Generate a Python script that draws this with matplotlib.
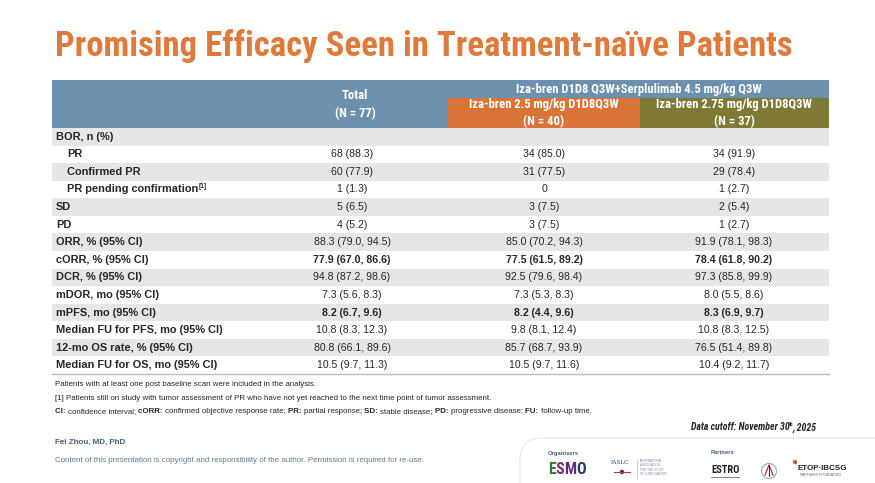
import matplotlib
matplotlib.use("Agg")
import matplotlib.pyplot as plt
from matplotlib import font_manager as fm
from matplotlib.patches import Rectangle, FancyBboxPatch, Circle

# ---------------- data ----------------
title = "Promising Efficacy Seen in Treatment-naïve Patients"
group_header = "Iza-bren D1D8 Q3W+Serplulimab 4.5 mg/kg Q3W"
col_headers = ["Total\n(N = 77)",
               "Iza-bren 2.5 mg/kg D1D8Q3W\n(N = 40)",
               "Iza-bren 2.75 mg/kg D1D8Q3W\n(N = 37)"]
row_labels = ["BOR, n (%)", "PR", "Confirmed PR", "PR pending confirmation",
              "SD", "PD", "ORR, % (95% CI)", "cORR, % (95% CI)",
              "DCR, % (95% CI)", "mDOR, mo (95% CI)", "mPFS, mo (95% CI)",
              "Median FU for PFS, mo (95% CI)", "12-mo OS rate, % (95% CI)",
              "Median FU for OS, mo (95% CI)"]
row_indent = [False, True, True, True, False, False, False, False,
              False, False, False, False, False, False]
row_sup = ["", "", "", "[1]", "", "", "", "", "", "", "", "", "", ""]
total_vals = ["", "68 (88.3)", "60 (77.9)", "1 (1.3)", "5 (6.5)", "4 (5.2)",
              "88.3 (79.0, 94.5)", "77.9 (67.0, 86.6)", "94.8 (87.2, 98.6)",
              "7.3 (5.6, 8.3)", "8.2 (6.7, 9.6)", "10.8 (8.3, 12.3)",
              "80.8 (66.1, 89.6)", "10.5 (9.7, 11.3)"]
arm25_vals = ["", "34 (85.0)", "31 (77.5)", "0", "3 (7.5)", "3 (7.5)",
              "85.0 (70.2, 94.3)", "77.5 (61.5, 89.2)", "92.5 (79.6, 98.4)",
              "7.3 (5.3, 8.3)", "8.2 (4.4, 9.6)", "9.8 (8.1, 12.4)",
              "85.7 (68.7, 93.9)", "10.5 (9.7, 11.6)"]
arm275_vals = ["", "34 (91.9)", "29 (78.4)", "1 (2.7)", "2 (5.4)", "1 (2.7)",
               "91.9 (78.1, 98.3)", "78.4 (61.8, 90.2)", "97.3 (85.8, 99.9)",
               "8.0 (5.5, 8.6)", "8.3 (6.9, 9.7)", "10.8 (8.3, 12.5)",
               "76.5 (51.4, 89.8)", "10.4 (9.2, 11.7)"]
bold_rows = ["cORR, % (95% CI)", "mPFS, mo (95% CI)"]

footnotes = [
    [("Patients with at least one post baseline scan were included in the analysis.", "normal")],
    [("[1] Patients still on study with tumor assessment of PR who have not yet reached to the next time point of tumor assessment.", "normal")],
    [("CI: ", "bold"), ("confidence interval; ", "normal"), ("cORR: ", "bold"),
     ("confirmed objective response rate; ", "normal"), ("PR: ", "bold"),
     ("partial response; ", "normal"), ("SD: ", "bold"), ("stable disease; ", "normal"),
     ("PD: ", "bold"), ("progressive disease; ", "normal"), ("FU: ", "bold"),
     ("follow-up time.", "normal")],
]
author = "Fei Zhou, MD, PhD"
copyright_txt = "Content of this presentation is copyright and responsibility of the author. Permission is required for re-use."

# ---------------- fonts ----------------
def has_font(name):
    try:
        fm.findfont(fm.FontProperties(family=name), fallback_to_default=False)
        return True
    except Exception:
        return False

BASE = "Liberation Sans" if has_font("Liberation Sans") else "DejaVu Sans"
NARROW = BASE
for cand in ["Liberation Sans Narrow", "Arial Narrow", "Roboto Condensed",
             "Open Sans Condensed"]:
    if has_font(cand):
        NARROW = cand
        break
plt.rcParams["font.family"] = [BASE, "DejaVu Sans"]

# ---------------- colours ----------------
C_TITLE = "#E07A3A"
C_BLUE = "#6C90AE"
C_ORANGE = "#D97337"
C_OLIVE = "#7E7A36"
C_GRAY = "#E6E6E6"
C_TEXT = "#262626"
C_AUTH = "#3E5F80"
C_COPY = "#5D7C99"

W, H = 875, 483
fig = plt.figure(figsize=(W / 100, H / 100), dpi=100)
ax = fig.add_axes([0, 0, 1, 1])
ax.set_xlim(0, W)
ax.set_ylim(H, 0)
ax.axis("off")
fig.canvas.draw()
renderer = fig.canvas.get_renderer()

def text_width(t):
    return t.get_window_extent(renderer=renderer).width

def fit(t, target_w):
    fs = t.get_fontsize()
    t.set_fontsize(fs * target_w / text_width(t))

# title, fitted to the reference span (x 55 .. 793)
tt = ax.text(55, 46, title, fontsize=25, fontweight="bold", color=C_TITLE,
             va="center", ha="left", family=[NARROW, BASE])
fit(tt, 793 - 55)

# table geometry
x0, x1 = 52, 829
x_orange, x_olive = 448, 640
hdr_top, hdr_mid, hdr_bot = 80, 97, 128
row_h = (374 - hdr_bot) / len(row_labels)
col_centers = [352, 544, 734]

ax.add_patch(Rectangle((x0, hdr_top), x1 - x0, hdr_bot - hdr_top, color=C_BLUE, lw=0))
ax.add_patch(Rectangle((x_orange, hdr_mid + 1), x_olive - x_orange, hdr_bot - hdr_mid - 1,
                       color=C_ORANGE, lw=0))
ax.add_patch(Rectangle((x_olive, hdr_mid + 1), x1 - x_olive, hdr_bot - hdr_mid - 1,
                       color=C_OLIVE, lw=0))
hfont = dict(fontsize=7.6, fontweight="bold", color="white", family=[NARROW, BASE],
             ha="center", va="center", linespacing=1.45)
gh = ax.text((x_orange + x1) / 2, 89, group_header, **hfont)
fit(gh, 244)
hfont["fontsize"] = gh.get_fontsize()
ax.text(355, 104.5, col_headers[0], **hfont)
ax.text((x_orange + x_olive) / 2, 113, col_headers[1], **hfont)
ax.text((x_olive + x1) / 2, 113, col_headers[2], **hfont)

# rows
for i, lab in enumerate(row_labels):
    ytop = hdr_bot + i * row_h
    yc = ytop + row_h / 2
    if i % 2 == 0:
        ax.add_patch(Rectangle((x0, ytop), x1 - x0, row_h, color=C_GRAY, lw=0))
    lx = 67 if row_indent[i] else 56
    t = ax.text(lx, yc, lab, fontsize=7.9, fontweight="bold", color=C_TEXT,
                ha="left", va="center")
    if row_sup[i]:
        w = text_width(t)
        ax.text(lx + w + 0.5, yc - 3, row_sup[i], fontsize=4.8, fontweight="bold",
                color=C_TEXT, ha="left", va="center")
    wt = "bold" if lab in bold_rows else "normal"
    for cx, vals in zip(col_centers, [total_vals, arm25_vals, arm275_vals]):
        ax.text(cx, yc, vals[i], fontsize=7.6, fontweight=wt, color=C_TEXT,
                ha="center", va="center")
ax.plot([x0, x1], [374, 374], color="#A9C2D8", lw=1.0)

# footnotes
for line, y in zip(footnotes, [385, 398.5, 411.5]):
    x = 55
    for seg, wt in line:
        t = ax.text(x, y, seg, fontsize=5.7, fontweight=wt, color=C_TEXT,
                    ha="left", va="center")
        x += text_width(t)

# data cutoff (laid out left to right, then shifted so it ends at x=817)
dfs = 7.1
parts = [("Data cutoff: November 30", dfs, 0.0, -0.8), ("th", 4.3, -2.8, -0.8),
         (", 2025", dfs, 0.0, 0.0)]
objs = []
for s, fs, dy, adj in parts:
    objs.append(ax.text(0, 427.5 + dy, s, fontsize=fs, fontweight="bold", style="italic",
                        color=C_TEXT, ha="left", va="center", family=[NARROW, BASE]))
widths = [text_width(o) + p[3] for o, p in zip(objs, parts)]
x = 817 - sum(widths)
for o, w in zip(objs, widths):
    o.set_x(x)
    x += w

# author / copyright
ax.text(55, 442, author, fontsize=5.8, fontweight="bold", color=C_AUTH,
        ha="left", va="center")
ax.text(55, 461, copyright_txt, fontsize=5.65, color=C_COPY,
        ha="left", va="center")

# logo area
ax.add_patch(FancyBboxPatch((520, 438), 400, 80, boxstyle="round,pad=0,rounding_size=22",
                            fc="white", ec="#EBEBEB", lw=1.0))
ax.text(548, 453, "Organisers", fontsize=4.2, fontweight="bold", color="#3E5F80",
        ha="left", va="center")
ax.text(711, 453, "Partners", fontsize=4.2, fontweight="bold", color="#3E5F80",
        ha="left", va="center")
esmo_cols = ["#2E7D32", "#7A2D6E", "#5B2C83", "#1E3A6E"]
ex = 548
for ch, c in zip("ESMO", esmo_cols):
    t = ax.text(ex, 470, ch, fontsize=11.5, fontweight="bold", color=c, ha="left",
                va="center", family=[NARROW, BASE])
    ex += text_width(t)
ax.text(611, 463, "IASLC", fontsize=4.6, color="#1E3A8A", ha="left", va="center",
        family=["Liberation Serif", "DejaVu Serif"])
ax.plot([614, 630], [472, 472], color="#C0392B", lw=0.8)
ax.add_patch(Circle((622, 472), 2.2, color="#1E3A8A", lw=0))
ax.plot([637, 637], [460, 478], color="#BBBBBB", lw=0.5)
for j, s in enumerate(["INTERNATIONAL", "ASSOCIATION", "FOR THE STUDY", "OF LUNG CANCER"]):
    ax.text(640, 461 + j * 4.3, s, fontsize=2.2, color="#7A8AA8", ha="left", va="center")
ax.text(711, 470, "ESTRO", fontsize=7.6, fontweight="bold", color="#222222",
        ha="left", va="center", family=[NARROW, BASE])
ax.plot([711, 739], [477, 477], color="#222222", lw=0.4)
ax.add_patch(Circle((769, 471), 7.5, fc="white", ec="#8FA8C8", lw=0.8))
ax.plot([765, 769, 773], [475, 465, 475], color="#B03030", lw=0.9)
ax.plot([769, 769], [465, 476], color="#1E3A6E", lw=0.7)
ax.add_patch(Circle((795, 462), 2.3, color="#E8702A", lw=0))
ax.add_patch(Circle((796, 462.5), 1.0, color="#1E5AA8", lw=0))
ax.text(798, 468, "ETOP·IBCSG", fontsize=5.8, fontweight="bold", color="#222222",
        ha="left", va="center")
ax.text(800, 475.5, "PARTNERS FOUNDATION", fontsize=2.4, color="#666666",
        ha="left", va="center")

fig.savefig("out.png", dpi=100)
